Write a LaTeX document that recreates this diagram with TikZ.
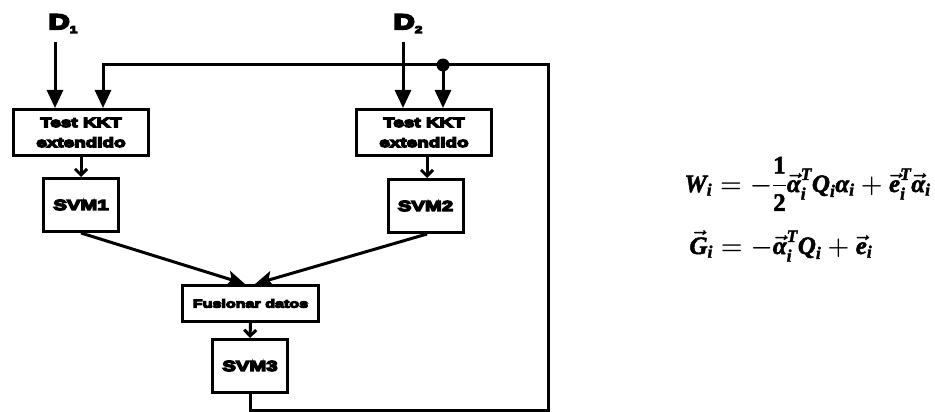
\documentclass[tikz,border=0pt]{standalone}
\usepackage{amsmath}
\usepackage{fontspec}
\usetikzlibrary{arrows.meta,calc}
\newfontfamily\bxf[FakeBold=10,FakeStretch=1.4]{Liberation Sans Bold}
\newfontfamily\eqf[FakeBold=2]{Liberation Serif}
\newcommand\tx[1]{\text{#1}}
\tikzset{
  blk/.style={draw, line width=3pt, inner sep=0pt, align=center, fill=white},
  kkt/.style={blk, minimum width=135pt, minimum height=46pt, font=\bxf\fontsize{13.5}{20}\selectfont},
  svm/.style={blk, minimum width=75pt, minimum height=53pt, font=\bxf\fontsize{14.5}{16}\selectfont},
  fus/.style={blk, minimum width=136pt, minimum height=36pt, font=\bxf\fontsize{11.5}{14}\selectfont},
  dlab/.style={inner sep=0pt, anchor=base west, font=\bxf\fontsize{21}{22}\selectfont},
  eqn/.style={inner sep=0pt, anchor=base west, font=\eqf\bfseries\itshape\boldmath\fontsize{25}{28}\selectfont},
  bigin/.style={-{Triangle[length=18pt,width=16pt]}},
  conv/.style={-{Stealth[length=18pt,width=16pt,inset=4pt]}},
  small/.style={-{Straight Barb[length=6pt,width=12pt]}},
  wire/.style={line width=3pt}
}
\begin{document}
\begin{tikzpicture}[x=1pt,y=-1pt,line width=3pt]
\useasboundingbox (0,0) rectangle (935,412);
% nodes
\node[kkt] (k1) at (81,132.5) {Test KKT\\extendido};
\node[kkt] (k2) at (424,132.5) {Test KKT\\extendido};
\node[svm] (s1) at (81,205) {SVM1};
\node[svm] (s2) at (425.5,206) {SVM2};
\node[fus] (fu) at (250.5,303.5) {Fusionar datos};
\node[svm] (s3) at (250,366) {SVM3};
\node[dlab] (d1) at (47,29) {D\raisebox{-4pt}{\fontsize{10}{10}\selectfont 1}};
\node[dlab] (d2) at (392,29) {D\raisebox{-4pt}{\fontsize{10}{10}\selectfont 2}};
% coordinates
\coordinate (a1) at (55,42);
\coordinate (a2) at (403,42);
\coordinate (tl) at (103,65);
\coordinate (tr) at (548,65);
\coordinate (br) at (548,410.5);
\coordinate (dot) at (443,65);
\coordinate (t1) at (245,284);
\coordinate (t2) at (255,284);
% inputs
\draw[wire,bigin] (a1) -- (a1 |- k1.north);
\draw[wire,bigin] (a2) -- (a2 |- k2.north);
% feedback loop
\draw[wire,bigin] (s3.south) |- (br) -- (tr) -- (tl) -- (tl |- k1.north);
\fill (dot) circle[radius=6.5];
\draw[wire,bigin] (dot) -- (dot |- k2.north);
% internal arrows
\draw[wire,small] (k1.south) -- (s1.north);
\draw[wire,small] ($(k2.south -| s2.north)+(1.5,0)$) -- ($(s2.north)+(1.5,0)$);
\draw[wire,conv] (s1.south) -- (t1);
\draw[wire,conv] ($(s2.south)+(1.5,0)$) -- (t2);
\draw[wire,small] (fu.south) -- (s3.north);
% equations
\node[eqn] (e1) at (683,192) {$\tx{W}_{\tx{i}} = -\smash[b]{\dfrac{\tx{\upshape 1}}{\tx{\upshape 2}}}\vec{\tx{α}}_{\tx{i}}^{\tx{T}}\tx{Q}_{\tx{i}}\tx{α}_{\tx{i}} + \vec{\tx{e}}_{\tx{i}}^{\tx{T}}\vec{\tx{α}}_{\tx{i}}$};
\node[eqn] (e2) at (688,254) {$\vec{\tx{G}}_{\tx{i}} = -\vec{\tx{α}}_{\tx{i}}^{\tx{T}}\tx{Q}_{\tx{i}} + \vec{\tx{e}}_{\tx{i}}$};
\end{tikzpicture}
\end{document}
